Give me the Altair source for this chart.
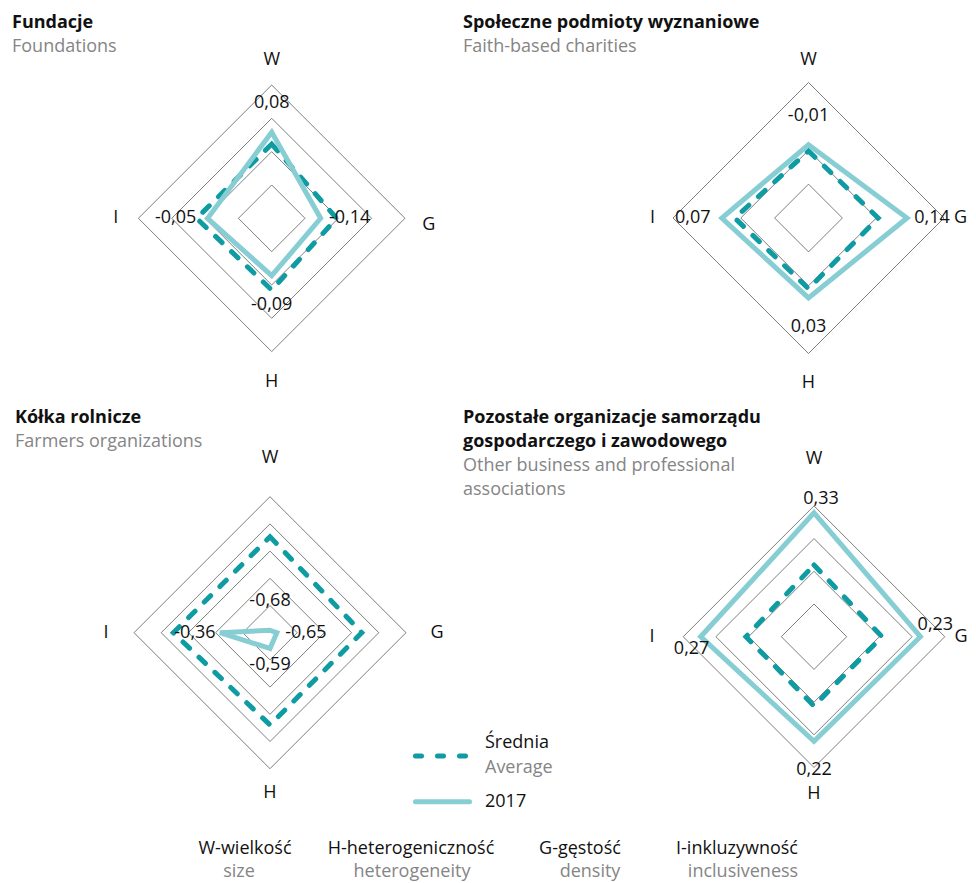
import math
import altair as alt
import pandas as pd

# ---------------- data ----------------
AXES = ["W", "G", "H", "I"]
TITLES = [
    ["Fundacje"],
    ["Społeczne podmioty wyznaniowe"],
    ["Kółka rolnicze"],
    ["Pozostałe organizacje samorządu", "gospodarczego i zawodowego"],
]
SUBTITLES = [
    ["Foundations"],
    ["Faith-based charities"],
    ["Farmers organizations"],
    ["Other business and professional", "associations"],
]
VALUES_2017 = [
    [0.08, -0.14, -0.09, -0.05],
    [-0.01, 0.14, 0.03, 0.07],
    [-0.68, -0.65, -0.59, -0.36],
    [0.33, 0.23, 0.22, 0.27],
]
VALUES_AVG = [
    [0.01, -0.045, -0.005, 0.015],
    [-0.047, -0.031, -0.025, -0.007],
    [-0.052, -0.08, -0.077, -0.047],
    [0.031, 0.01, 0.017, 0.01],
]
RADIAL_DOMAIN = [[-0.43, 0.36], [-0.445, 0.36], [-0.696, 0.217], [-0.38, 0.37]]
GRID_LEVELS = [[0.25, 0.5, 0.75, 1.0], [0.25, 0.5, 1.0], [0.2, 0.4, 0.6, 0.8, 1.0], [0.25, 0.5, 0.75, 1.0]]
LEGEND_MAIN = ["Średnia", "2017"]
LEGEND_SUB = ["Average", ""]
FOOT_ROW1 = ["W-wielkość", "H-heterogeniczność", "G-gęstość", "I-inkluzywność"]
FOOT_ROW2 = ["size", "heterogeneity", "density", "inclusiveness"]

# ---------------- layout / style ----------------
AXIS_ANGLE = {"W": 0, "G": 90, "H": 180, "I": 270}
CENTERS = [(271.7, 218.3), (808.5, 218.0), (270.0, 632.7), (814.0, 636.7)]
RADII = [133.3, 135.5, 136.0, 130.8]
AXIS_LABEL_DIST = [[158, 157, 164, 156], [158, 152, 165, 156], [175, 167, 160, 164], [178, 147, 157, 162]]
AXIS_LABEL_SHIFT = {(0, "G"): (0, 7)}
VALUE_LABEL_GAP = 29
VALUE_LABEL_SHIFT = {(0, "I"): (-3, 0), (1, "G"): (-4, 0), (2, "H"): (0, -12), (2, "I"): (4, 0),
                     (3, "W"): (7, 15), (3, "G"): (-14, -12), (3, "I"): (20, 12)}
TITLE_POS = [(12, 28.3), (463, 28.3), (15, 423.3), (463, 423.3)]
LINE_H = 24
LEGEND_LINE_Y = [756, 801.7]
LEGEND_LINE_X = [(415.5, 466), (415.5, 469.5)]
LEGEND_TEXT_X = 485
FOOT_X1 = [245, 411, 580, 737]
FOOT_X2 = [239, 412, 590, 743]
FOOT_Y = [849, 872]

DASH_COLOR = "#0e9ba1"
SOLID_COLOR = "#86ced3"
GRID_COLOR = "#707070"
GREY_TEXT = "#858585"
FONT = "Open Sans"


def polar(p, r, ax):
    cx, cy = CENTERS[p]
    th = math.radians(AXIS_ANGLE[ax])
    return cx + r * math.sin(th), cy - r * math.cos(th)


def rad(p, v):
    d0, d1 = RADIAL_DOMAIN[p]
    return (v - d0) / (d1 - d0) * RADII[p]


grid_rows, avg_rows, sol_rows, axlab_rows, vlab_rows = [], [], [], [], []
for p in range(4):
    for li, lev in enumerate(GRID_LEVELS[p]):
        for k, ax in enumerate(AXES):
            x, y = polar(p, lev * RADII[p], ax)
            grid_rows.append(dict(ring=f"{p}-{li}", order=k, x=x, y=y))
    for k, ax in enumerate(AXES):
        x, y = polar(p, rad(p, VALUES_AVG[p][k]), ax)
        avg_rows.append(dict(panel=p, order=k, x=x, y=y))
        r = rad(p, VALUES_2017[p][k])
        x, y = polar(p, r, ax)
        sol_rows.append(dict(panel=p, order=k, x=x, y=y))
        lx, ly = polar(p, r + VALUE_LABEL_GAP, ax)
        sx, sy = VALUE_LABEL_SHIFT.get((p, ax), (0, 0))
        vlab_rows.append(dict(x=lx + sx, y=ly + sy,
                              text=f"{VALUES_2017[p][k]:.2f}".replace(".", ",")))
        ax_x, ax_y = polar(p, AXIS_LABEL_DIST[p][k], ax)
        sx, sy = AXIS_LABEL_SHIFT.get((p, ax), (0, 0))
        axlab_rows.append(dict(x=ax_x + sx, y=ax_y + sy, text=ax))

title_rows, sub_rows = [], []
for p in range(4):
    tx, ty = TITLE_POS[p]
    for i, t in enumerate(TITLES[p]):
        title_rows.append(dict(x=tx, y=ty + i * LINE_H, text=t))
    base = ty + len(TITLES[p]) * LINE_H
    for i, t in enumerate(SUBTITLES[p]):
        sub_rows.append(dict(x=tx, y=base + i * LINE_H, text=t))

leg_dash = pd.DataFrame([dict(x=LEGEND_LINE_X[0][0], y=LEGEND_LINE_Y[0], o=0),
                         dict(x=LEGEND_LINE_X[0][1], y=LEGEND_LINE_Y[0], o=1)])
leg_sol = pd.DataFrame([dict(x=LEGEND_LINE_X[1][0], y=LEGEND_LINE_Y[1], o=0),
                        dict(x=LEGEND_LINE_X[1][1], y=LEGEND_LINE_Y[1], o=1)])
leg_main = pd.DataFrame([dict(x=LEGEND_TEXT_X, y=743, text=LEGEND_MAIN[0]),
                         dict(x=LEGEND_TEXT_X, y=802, text=LEGEND_MAIN[1])])
leg_sub = pd.DataFrame([dict(x=LEGEND_TEXT_X, y=768, text=LEGEND_SUB[0])])
foot1 = pd.DataFrame([dict(x=FOOT_X1[i], y=FOOT_Y[0], text=t) for i, t in enumerate(FOOT_ROW1)])
foot2 = pd.DataFrame([dict(x=FOOT_X2[i], y=FOOT_Y[1], text=t) for i, t in enumerate(FOOT_ROW2)])

X = alt.X("x:Q", scale=alt.Scale(domain=[8, 968], nice=False, zero=False), axis=None)
Y = alt.Y("y:Q", scale=alt.Scale(domain=[883, 8], nice=False, zero=False), axis=None)

grid = alt.Chart(pd.DataFrame(grid_rows)).mark_line(
    interpolate="linear-closed", stroke=GRID_COLOR, strokeWidth=0.9
).encode(x=X, y=Y, order="order:Q", detail="ring:N")

avg = alt.Chart(pd.DataFrame(avg_rows)).mark_line(
    interpolate="linear-closed", stroke=DASH_COLOR, strokeWidth=5,
    strokeDash=[9, 13], strokeCap="round"
).encode(x=X, y=Y, order="order:Q", detail="panel:N")

sol = alt.Chart(pd.DataFrame(sol_rows)).mark_line(
    interpolate="linear-closed", stroke=SOLID_COLOR, strokeWidth=5, strokeJoin="miter"
).encode(x=X, y=Y, order="order:Q", detail="panel:N")

axlab = alt.Chart(pd.DataFrame(axlab_rows)).mark_text(
    align="center", baseline="middle", fontSize=18, font=FONT, color="#111111"
).encode(x=X, y=Y, text="text:N")

vlab = alt.Chart(pd.DataFrame(vlab_rows)).mark_text(
    align="center", baseline="middle", fontSize=18, font=FONT, color="#111111"
).encode(x=X, y=Y, text="text:N")

titles = alt.Chart(pd.DataFrame(title_rows)).mark_text(
    align="left", baseline="alphabetic", fontSize=18, font=FONT, fontWeight="bold", color="#111111"
).encode(x=X, y=Y, text="text:N")

subs = alt.Chart(pd.DataFrame(sub_rows)).mark_text(
    align="left", baseline="alphabetic", fontSize=18, font=FONT, color=GREY_TEXT
).encode(x=X, y=Y, text="text:N")

ld = alt.Chart(leg_dash).mark_line(
    stroke=DASH_COLOR, strokeWidth=5, strokeDash=[6, 16], strokeCap="round"
).encode(x=X, y=Y, order="o:Q")
ls = alt.Chart(leg_sol).mark_line(
    stroke=SOLID_COLOR, strokeWidth=5, strokeCap="round"
).encode(x=X, y=Y, order="o:Q")
lm = alt.Chart(leg_main).mark_text(
    align="left", baseline="middle", fontSize=18, font=FONT, color="#111111"
).encode(x=X, y=Y, text="text:N")
lsub = alt.Chart(leg_sub).mark_text(
    align="left", baseline="middle", fontSize=18, font=FONT, color=GREY_TEXT
).encode(x=X, y=Y, text="text:N")
f1 = alt.Chart(foot1).mark_text(
    align="center", baseline="middle", fontSize=18, font=FONT, color="#111111"
).encode(x=X, y=Y, text="text:N")
f2 = alt.Chart(foot2).mark_text(
    align="center", baseline="middle", fontSize=18, font=FONT, color=GREY_TEXT
).encode(x=X, y=Y, text="text:N")

chart = alt.layer(grid, avg, sol, axlab, vlab, titles, subs, ld, ls, lm, lsub, f1, f2).properties(
    width=960, height=875, padding=0, autosize=alt.AutoSizeParams(type="none")
).configure_view(stroke=None)

chart.save("out.html", embed_options={"renderer": "svg", "actions": False})
